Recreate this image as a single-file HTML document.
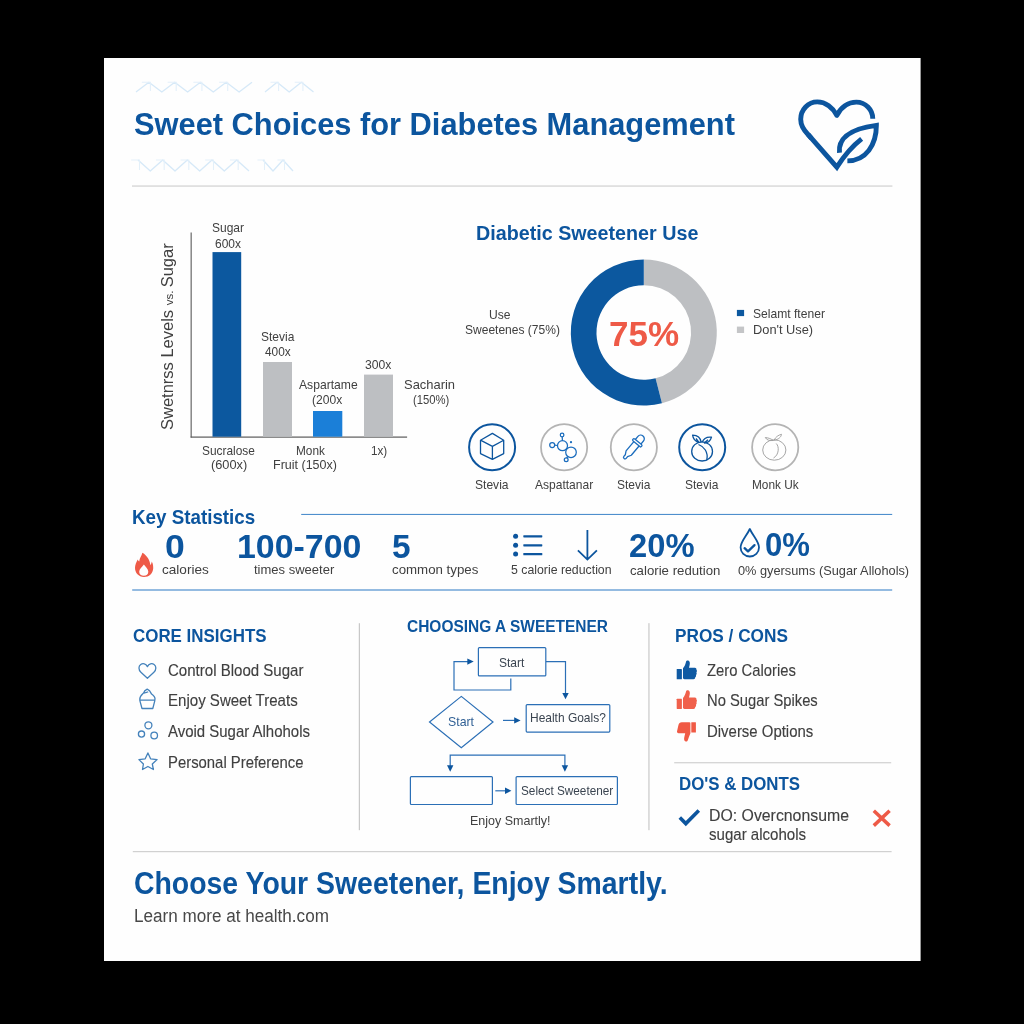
<!DOCTYPE html>
<html lang="en"><head><meta charset="utf-8"><title>Sweet Choices for Diabetes Management</title>
<style>
html,body{margin:0;padding:0;background:#000;}
body{width:1024px;height:1024px;position:relative;overflow:hidden;font-family:"Liberation Sans",sans-serif;}
svg{position:absolute;left:0;top:0;}
.t{position:absolute;white-space:nowrap;line-height:1;transform-origin:0 0;display:block;}
</style></head><body>
<svg width="1024" height="1024" viewBox="0 0 1024 1024">
<rect x="104" y="58" width="816.6" height="903" fill="#fefefe"/>
<path d="M136.0,92.0 L148.9,82.3 L161.8,92.0 L174.7,82.3 L187.6,92.0 L200.4,82.3 L213.3,92.0 L226.2,82.3 L239.1,92.0 L252.0,82.3" fill="none" stroke="#d6e9f8" stroke-width="1.3" stroke-linejoin="round"/><path d="M141.8,82.3 L150.4,82.3 L150.4,91.0 M167.6,82.3 L176.2,82.3 L176.2,91.0 M193.4,82.3 L201.9,82.3 L201.9,91.0 M219.1,82.3 L227.7,82.3 L227.7,91.0 " fill="none" stroke="#e3f0fa" stroke-width="1.1"/>
<path d="M265.0,92.0 L277.1,82.3 L289.2,92.0 L301.4,82.3 L313.5,92.0" fill="none" stroke="#d6e9f8" stroke-width="1.3" stroke-linejoin="round"/><path d="M270.5,82.3 L278.6,82.3 L278.6,91.0 M294.7,82.3 L302.9,82.3 L302.9,91.0 " fill="none" stroke="#e3f0fa" stroke-width="1.1"/>
<path d="M138.0,160.0 L150.3,171.0 L162.7,160.0 L175.0,171.0 L187.3,160.0 L199.7,171.0 L212.0,160.0 L224.3,171.0 L236.7,160.0 L249.0,171.0" fill="none" stroke="#d6e9f8" stroke-width="1.3" stroke-linejoin="round"/><path d="M131.2,160.0 L139.5,160.0 L139.5,170.0 M155.9,160.0 L164.2,160.0 L164.2,170.0 M180.6,160.0 L188.8,160.0 L188.8,170.0 M205.2,160.0 L213.5,160.0 L213.5,170.0 M229.9,160.0 L238.2,160.0 L238.2,170.0 " fill="none" stroke="#e3f0fa" stroke-width="1.1"/>
<path d="M263.0,160.0 L273.0,171.0 L283.0,160.0 L293.0,171.0" fill="none" stroke="#d6e9f8" stroke-width="1.3" stroke-linejoin="round"/><path d="M257.5,160.0 L264.5,160.0 L264.5,170.0 M277.5,160.0 L284.5,160.0 L284.5,170.0 " fill="none" stroke="#e3f0fa" stroke-width="1.1"/>
<rect x="132" y="185.5" width="760.4" height="1.1" fill="#cccccc"/>
<g fill="none" stroke="#0c559e" stroke-width="4.9" stroke-miterlimit="10" stroke-linecap="butt"><path d="M872.77,118.71 C872.77,109.53 865.44,102.11 856.36,102.11 C848.06,102.11 840.73,107.58 836.83,115.39 C832.92,107.58 825.60,101.91 817.30,101.91 C808.21,101.91 800.70,109.53 800.70,119.30 C800.70,125.16 803.62,130.04 808.02,134.43 L811.44,138.31" stroke-linejoin="round"/><path d="M808.02,134.43 L836.83,167.15 C843.66,156.41 851.48,146.64 861.63,138.83" stroke-linejoin="miter"/><path d="M839.46,152.70 C838.29,140.78 846.59,129.06 876.38,125.35 C876.38,144.69 866.12,160.90 847.38,160.90" stroke-linejoin="miter"/></g>
<rect x="190.6" y="232.5" width="1.1" height="205" fill="#5a5a5a"/>
<rect x="190.6" y="436.5" width="216.5" height="1.2" fill="#5a5a5a"/>
<rect x="212.5" y="252.1" width="28.7" height="184.6" fill="#0c589f"/>
<rect x="263" y="362" width="29" height="74.7" fill="#bdbfc2"/>
<rect x="313" y="411" width="29.3" height="25.7" fill="#1b7fd8"/>
<rect x="364" y="374.6" width="29" height="62.1" fill="#bdbfc2"/>
<path d="M643.80,259.50 A73.0,73.0 0 0 1 661.95,403.21 L655.56,378.31 A47.3,47.3 0 0 0 643.80,285.20 Z" fill="#bdbfc2"/>
<path d="M661.95,403.21 A73.0,73.0 0 1 1 643.80,259.50 L643.80,285.20 A47.3,47.3 0 1 0 655.56,378.31 Z" fill="#0c589f"/>
<rect x="736.9" y="309.9" width="7.2" height="6.2" fill="#0c589f"/>
<rect x="736.9" y="326.6" width="7.2" height="6.4" fill="#c4c5c7"/>
<circle cx="492.1" cy="447.2" r="23.0" fill="none" stroke="#0c559e" stroke-width="2.0"/>
<circle cx="564.1" cy="447.2" r="23.1" fill="none" stroke="#b4b4b4" stroke-width="1.8"/>
<circle cx="633.85" cy="447.2" r="23.1" fill="none" stroke="#b4b4b4" stroke-width="1.8"/>
<circle cx="702.2" cy="447.2" r="23.0" fill="none" stroke="#0c559e" stroke-width="2.0"/>
<circle cx="775.2" cy="447.2" r="23.1" fill="none" stroke="#b4b4b4" stroke-width="1.8"/>
<path d="M492.4,433.4 L503.7,440.2 L503.7,453.6 L492.4,459.4 L480.5,453.6 L480.5,440.2 Z M480.5,440.2 L492.4,446.4 L503.7,440.2 M492.4,446.4 L492.4,459.4" fill="none" stroke="#0c559e" stroke-width="1.3" stroke-linejoin="round"/>
<g fill="none" stroke="#1a6cbd" stroke-width="1.25">
<circle cx="562.1" cy="435" r="1.8"/><circle cx="552.2" cy="445" r="2.5"/><circle cx="562.5" cy="445.7" r="5"/>
<circle cx="571" cy="452.3" r="5.3"/><circle cx="566.2" cy="459.7" r="1.9"/><circle cx="571" cy="442.2" r="0.5"/>
<path d="M562.2,436.8 L562.4,440.7 M554.7,445.2 L557.5,445.5 M566.6,458 L567.8,456.5"/></g>
<g fill="none" stroke="#1a6cbd" stroke-width="1.3" stroke-linejoin="round" transform="translate(633.5 447.3) rotate(40)">
<path d="M-3.6,-7.2 L-3.6,-11.2 a3.6,3.6 0 0 1 7.2,0 L3.6,-7.2"/>
<rect x="-5.6" y="-7.2" width="11.2" height="2.6" rx="1.2"/>
<path d="M-3.4,-4.6 L-3.4,7.5 L-1.5,11 L-1.5,13.2 a1.5,1.5 0 0 0 3,0 L1.5,11 L3.4,7.5 L3.4,-4.6"/>
</g>
<g fill="none" stroke="#0c559e" stroke-width="1.3" stroke-linejoin="round">
<ellipse cx="702.1" cy="451.4" rx="10.4" ry="9.6"/>
<path d="M699,442.5 C695,441.5 693,438 692.6,435.2 C697,435.3 700.5,437.5 701.2,442.3 M699,442.5 L696,438.5"/>
<path d="M702.2,442.3 C703.5,438.5 707.5,436.8 711.5,437.2 C710.5,441 707.5,443 704,443.2 M704,443.2 L708,439.8"/>
<path d="M698.5,444.5 C704,446.5 708.5,452 706.8,460"/>
</g>
<g fill="none" stroke="#9c9c9c" stroke-width="0.9" stroke-linejoin="round">
<ellipse cx="774.3" cy="450" rx="11.6" ry="10.2"/>
<path d="M773.5,440.5 C770.5,438.5 768,437.8 765.3,437.5 C766.5,439.8 769,441 773.5,440.5 M774,440.3 C775.5,437 778.5,435 781.5,434.3 C781.2,437 778.5,439.5 774,440.3"/>
<path d="M776.2,443.5 C779.5,446.5 779,455 773.5,458"/>
</g>
<rect x="301.2" y="513.9" width="591" height="1.1" fill="#4f8fcd"/>
<rect x="132.2" y="589.4" width="760" height="1.2" fill="#4f8fcd"/>
<path d="M142.4,552.8 C147,555.5 150.2,560.5 150.3,565.3 C151.2,564.2 151.6,562.8 151.7,561.6 C153.2,564 153.3,566.8 153.2,568.4 C152.8,573.6 149,576.9 144,576.9 C138.6,576.9 135,573 135,567.8 C135,564.6 136.4,562.2 137.7,559.4 C138.1,560.3 138.6,561 139.2,561.4 C139.6,558.2 141.6,556 142.4,552.8 Z M143.9,564.6 C142.2,567 139.2,569.2 139.2,571.8 C139.2,574.2 141.2,575.8 143.8,575.8 C146.4,575.8 148.3,574.2 148.3,571.8 C148.3,569.2 145.6,567 143.9,564.6 Z" fill="#ee5a47" fill-rule="evenodd"/>
<circle cx="515.6" cy="536.3" r="2.5" fill="#0c559e"/>
<rect x="523.3" y="535.15" width="19" height="2.3" rx="0.6" fill="#0c559e"/>
<circle cx="515.6" cy="545.3" r="2.5" fill="#0c559e"/>
<rect x="523.3" y="544.15" width="19" height="2.3" rx="0.6" fill="#0c559e"/>
<circle cx="515.6" cy="554.1" r="2.5" fill="#0c559e"/>
<rect x="523.3" y="552.95" width="19" height="2.3" rx="0.6" fill="#0c559e"/>
<path d="M587.4,530 L587.4,559 M577.9,550.3 L587.4,559.6 L596.9,550.3" fill="none" stroke="#0c559e" stroke-width="1.8" stroke-linejoin="miter"/>
<path d="M749.8,529 C746,537 740.6,541.5 740.6,547.6 C740.6,552.6 744.6,556.5 749.8,556.5 C755,556.5 759,552.6 759,547.6 C759,541.5 753.6,537 749.8,529 Z" fill="none" stroke="#0c559e" stroke-width="1.8" stroke-linejoin="round"/>
<path d="M744.6,548.2 L748,551.4 L754.5,545.1" fill="none" stroke="#0c559e" stroke-width="2.3" stroke-linecap="round" stroke-linejoin="round"/>
<rect x="358.8" y="623.2" width="1.1" height="207" fill="#c3c3c3"/>
<rect x="648.4" y="623.2" width="1.1" height="207" fill="#c3c3c3"/>
<g fill="none" stroke="#4482bb" stroke-width="1.3" stroke-linejoin="round">
<path d="M147.4,678.3 L140.9,672.3 C138.3,669.9 138.4,666.1 140.7,664.5 C142.9,663 145.8,663.7 147.4,666.6 C149,663.7 151.9,663 154.1,664.5 C156.4,666.1 156.5,669.9 153.9,672.3 Z"/>
<path d="M139.8,700.4 L142,708.5 L152.8,708.5 L154.9,700.4 M139.2,700.1 L155.4,700.1 M139.8,699.6 C139.5,696.2 142,694.6 143.6,693 C144.2,691 146,689.8 147.2,689.2 C149,689.9 150.6,692 151.6,694.1 C153.6,695.6 155.4,697 155,699.6 M144.2,693.2 C145.6,692.2 147.2,692.4 148.2,691.8"/>
<circle cx="148.4" cy="725.3" r="3.5"/><circle cx="141.5" cy="734.1" r="3.1"/><circle cx="154.2" cy="735.5" r="3.3"/>
<path d="M147.9,752.9 L150.6,758.8 L157.1,759.6 L152.3,764 L153.4,769.5 L147.9,766.5 L142.5,769.5 L143.4,764 L138.9,759.6 L145.2,758.8 Z"/>
</g>
<g fill="none" stroke="#2b6fb6" stroke-width="1.2">
<rect x="478.4" y="647.6" width="67.4" height="28.3" rx="1"/>
<path d="M510.8,678.6 L510.8,690 L454,690 L454,661.6 L468,661.6"/>
<path d="M546,661.6 L565.5,661.6 L565.5,693.5"/>
<path d="M461.3,696.4 L493,722 L461.3,747.8 L429.5,722 Z"/>
<path d="M503,720.4 L515,720.4"/>
<rect x="526.2" y="704.6" width="83.6" height="27.5" rx="1"/>
<path d="M450.2,766 L450.2,755.1 L564.9,755.1 L564.9,766"/>
<rect x="410.4" y="776.6" width="82" height="27.9" rx="1"/>
<rect x="516.1" y="776.6" width="101.3" height="27.9" rx="1"/>
<path d="M495.3,790.8 L506,790.8"/>
</g>
<path d="M473.7,661.6 L467.3,658.4 L467.3,664.8000000000001 Z" fill="#0c559e"/>
<path d="M565.5,699.3 L562.3,692.9 L568.7,692.9 Z" fill="#0c559e"/>
<path d="M520.6,720.4 L514.2,717.1999999999999 L514.2,723.6 Z" fill="#0c559e"/>
<path d="M450.2,771.7 L447.0,765.3000000000001 L453.4,765.3000000000001 Z" fill="#0c559e"/>
<path d="M564.9,771.7 L561.6999999999999,765.3000000000001 L568.1,765.3000000000001 Z" fill="#0c559e"/>
<path d="M511.4,790.8 L505.0,787.5999999999999 L505.0,794.0 Z" fill="#0c559e"/>
<g transform="translate(676.3 660.3)" fill="#0f5aa3">
<rect x="0.4" y="8.8" width="5.2" height="10.2" rx="0.4"/>
<path d="M6.7,8 C8.3,6.2 9.3,3.6 9.8,1.2 C10.1,0.2 11.2,0 12,0.3 C13.6,0.9 13.8,3 13.3,5 L12.7,7.4 L18.6,7.4 C19.8,7.4 20.4,8.4 20.1,9.5 C20.8,10.1 20.8,11.5 20.1,12.1 C20.6,12.9 20.4,14.2 19.7,14.7 C20,15.6 19.6,16.6 18.9,17 C19,18.2 18.2,19 17.2,19 L8.2,19 C7.4,19 6.7,18.5 6.7,17.8 Z"/></g>
<g transform="translate(676.3 690)" fill="#f0604b">
<rect x="0.4" y="8.8" width="5.2" height="10.2" rx="0.4"/>
<path d="M6.7,8 C8.3,6.2 9.3,3.6 9.8,1.2 C10.1,0.2 11.2,0 12,0.3 C13.6,0.9 13.8,3 13.3,5 L12.7,7.4 L18.6,7.4 C19.8,7.4 20.4,8.4 20.1,9.5 C20.8,10.1 20.8,11.5 20.1,12.1 C20.6,12.9 20.4,14.2 19.7,14.7 C20,15.6 19.6,16.6 18.9,17 C19,18.2 18.2,19 17.2,19 L8.2,19 C7.4,19 6.7,18.5 6.7,17.8 Z"/></g>
<g transform="translate(676.8 722.2)" fill="#f05a45">
<rect x="14.5" y="0" width="4.6" height="10.4" rx="0.3"/>
<path d="M13.6,0.8 L13.6,11 C12.6,13.2 11.8,15.5 11,18 C10.6,19.3 9.4,19.6 8.4,19 C7,18.2 7.2,16.2 7.6,14.5 L8.4,11 L1.8,11 C0.6,11 -0.1,10 0.3,8.8 L1.6,3 C2,1 3.2,0 5,0 L12.6,0 C13.2,0 13.6,0.3 13.6,0.8 Z"/></g>
<rect x="674.2" y="762.2" width="217" height="1.1" fill="#cccccc"/>
<path d="M679.8,817.6 L685.8,823.6 L698.8,810.6" fill="none" stroke="#0c559e" stroke-width="3.6" stroke-linejoin="miter"/>
<path d="M873.8,810.8 L889.6,825.6 M889.6,810.8 L873.8,825.6" fill="none" stroke="#ee5a47" stroke-width="3.5"/>
<rect x="132.8" y="851.1" width="758.8" height="1.1" fill="#cccccc"/>
</svg>
<span class="t" style="left:134.00px;top:108.000px;font-size:32.00px;color:#0c559e;transform:scaleX(0.9627);font-weight:700;">Sweet Choices for Diabetes Management</span>
<span class="t" style="left:212.00px;top:222.000px;font-size:12.60px;color:#404040;transform:scaleX(0.9521);">Sugar</span>
<span class="t" style="left:215.00px;top:238.000px;font-size:12.60px;color:#404040;transform:scaleX(0.9490);">600x</span>
<span class="t" style="left:261.00px;top:331.000px;font-size:12.60px;color:#404040;transform:scaleX(0.9526);">Stevia</span>
<span class="t" style="left:265.00px;top:346.000px;font-size:12.60px;color:#404040;transform:scaleX(0.9409);">400x</span>
<span class="t" style="left:312.00px;top:394.000px;font-size:12.60px;color:#404040;transform:scaleX(0.9576);">(200x</span>
<span class="t" style="left:365.00px;top:359.000px;font-size:12.60px;color:#404040;transform:scaleX(0.9659);">300x</span>
<span class="t" style="left:202.00px;top:445.000px;font-size:12.60px;color:#404040;transform:scaleX(0.9445);">Sucralose</span>
<span class="t" style="left:371.00px;top:445.000px;font-size:12.60px;color:#404040;transform:scaleX(0.9273);">1x)</span>
<span class="t" style="left:299.00px;top:379.000px;font-size:12.60px;color:#404040;transform:scaleX(0.9643);">Aspartame</span>
<span class="t" style="left:404.00px;top:379.000px;font-size:12.60px;color:#404040;transform:scaleX(1.0268);">Sacharin</span>
<span class="t" style="left:413.00px;top:394.000px;font-size:12.60px;color:#404040;transform:scaleX(0.8941);">(150%)</span>
<span class="t" style="left:211.00px;top:459.000px;font-size:12.60px;color:#404040;transform:scaleX(1.0143);">(600x)</span>
<span class="t" style="left:296.00px;top:445.000px;font-size:12.60px;color:#404040;transform:scaleX(0.9381);">Monk</span>
<span class="t" style="left:273.00px;top:459.000px;font-size:12.60px;color:#404040;transform:scaleX(0.9932);">Fruit (150x)</span>
<span class="t" style="left:159.50px;top:429.74px;font-size:16.60px;color:#404040;transform:rotate(-90deg) scaleX(0.9941);">Swetnrss Levels <span style="font-size:11.62px">vs. </span>Sugar</span>
<span class="t" style="left:476.00px;top:223.000px;font-size:20.00px;color:#0c559e;transform:scaleX(0.9853);font-weight:700;">Diabetic Sweetener Use</span>
<span class="t" style="left:489.00px;top:309.000px;font-size:12.60px;color:#404040;transform:scaleX(0.9590);">Use</span>
<span class="t" style="left:465.00px;top:324.000px;font-size:12.60px;color:#404040;transform:scaleX(0.9548);">Sweetenes (75%)</span>
<span class="t" style="left:609.00px;top:316.000px;font-size:35.20px;color:#ee5a47;transform:scaleX(0.9954);font-weight:700;">75%</span>
<span class="t" style="left:753.00px;top:308.000px;font-size:12.20px;color:#404040;transform:scaleX(0.9925);">Selamt ftener</span>
<span class="t" style="left:753.00px;top:324.000px;font-size:12.20px;color:#404040;transform:scaleX(1.0516);">Don&#x27;t Use)</span>
<span class="t" style="left:475.00px;top:479.000px;font-size:12.60px;color:#404040;transform:scaleX(0.9583);">Stevia</span>
<span class="t" style="left:535.00px;top:479.000px;font-size:12.60px;color:#404040;transform:scaleX(0.9558);">Aspattanar</span>
<span class="t" style="left:617.00px;top:479.000px;font-size:12.60px;color:#404040;transform:scaleX(0.9526);">Stevia</span>
<span class="t" style="left:685.00px;top:479.000px;font-size:12.60px;color:#404040;transform:scaleX(0.9526);">Stevia</span>
<span class="t" style="left:752.00px;top:479.000px;font-size:12.60px;color:#404040;transform:scaleX(0.9401);">Monk Uk</span>
<span class="t" style="left:132.00px;top:508.000px;font-size:19.30px;color:#0c559e;transform:scaleX(0.9743);font-weight:700;">Key Statistics</span>
<span class="t" style="left:165.00px;top:531.000px;font-size:32.50px;color:#0c559e;transform:scaleX(1.0934);font-weight:700;">0</span>
<span class="t" style="left:237.00px;top:531.000px;font-size:32.50px;color:#0c559e;transform:scaleX(1.0426);font-weight:700;">100-700</span>
<span class="t" style="left:392.00px;top:531.000px;font-size:32.50px;color:#0c559e;transform:scaleX(1.0276);font-weight:700;">5</span>
<span class="t" style="left:629.00px;top:530.000px;font-size:32.50px;color:#0c559e;transform:scaleX(1.0064);font-weight:700;">20%</span>
<span class="t" style="left:765.00px;top:529.000px;font-size:32.50px;color:#0c559e;transform:scaleX(0.9556);font-weight:700;">0%</span>
<span class="t" style="left:162.00px;top:563.000px;font-size:13.40px;color:#404040;transform:scaleX(1.0133);">calories</span>
<span class="t" style="left:254.00px;top:563.000px;font-size:13.40px;color:#404040;transform:scaleX(0.9720);">times sweeter</span>
<span class="t" style="left:392.00px;top:563.000px;font-size:13.40px;color:#404040;transform:scaleX(0.9919);">common types</span>
<span class="t" style="left:511.00px;top:563.000px;font-size:13.40px;color:#404040;transform:scaleX(0.9189);">5 calorie reduction</span>
<span class="t" style="left:630.00px;top:564.000px;font-size:13.40px;color:#404040;transform:scaleX(0.9877);">calorie redution</span>
<span class="t" style="left:738.00px;top:564.000px;font-size:13.40px;color:#404040;transform:scaleX(0.9540);">0% gyersums (Sugar Allohols)</span>
<span class="t" style="left:133.00px;top:627.000px;font-size:18.60px;color:#0c559e;transform:scaleX(0.9103);font-weight:700;">CORE INSIGHTS</span>
<span class="t" style="left:407.00px;top:619.000px;font-size:16.80px;color:#0c559e;transform:scaleX(0.9227);font-weight:700;">CHOOSING A SWEETENER</span>
<span class="t" style="left:675.00px;top:627.000px;font-size:18.40px;color:#0c559e;transform:scaleX(0.9361);font-weight:700;">PROS / CONS</span>
<span class="t" style="left:168.00px;top:662.000px;font-size:16.10px;color:#404040;transform:scaleX(0.9348);-webkit-text-stroke:0.12px #383838;">Control Blood Sugar</span>
<span class="t" style="left:168.00px;top:692.000px;font-size:16.10px;color:#404040;transform:scaleX(0.9353);-webkit-text-stroke:0.12px #383838;">Enjoy Sweet Treats</span>
<span class="t" style="left:168.00px;top:723.000px;font-size:16.10px;color:#404040;transform:scaleX(0.9295);-webkit-text-stroke:0.12px #383838;">Avoid Sugar Alhohols</span>
<span class="t" style="left:168.00px;top:754.000px;font-size:16.10px;color:#404040;transform:scaleX(0.9238);-webkit-text-stroke:0.12px #383838;">Personal Preference</span>
<span class="t" style="left:707.00px;top:662.000px;font-size:16.10px;color:#404040;transform:scaleX(0.9194);-webkit-text-stroke:0.12px #383838;">Zero Calories</span>
<span class="t" style="left:707.00px;top:692.000px;font-size:16.10px;color:#404040;transform:scaleX(0.9171);-webkit-text-stroke:0.12px #383838;">No Sugar Spikes</span>
<span class="t" style="left:707.00px;top:723.000px;font-size:16.10px;color:#404040;transform:scaleX(0.9282);-webkit-text-stroke:0.12px #383838;">Diverse Options</span>
<span class="t" style="left:679.00px;top:775.000px;font-size:18.40px;color:#0c559e;transform:scaleX(0.9158);font-weight:700;">DO&#x27;S &amp; DONTS</span>
<span class="t" style="left:709.00px;top:807.000px;font-size:16.10px;color:#404040;transform:scaleX(0.9843);-webkit-text-stroke:0.12px #383838;">DO: Overcnonsume</span>
<span class="t" style="left:709.00px;top:826.000px;font-size:16.10px;color:#404040;transform:scaleX(0.9353);-webkit-text-stroke:0.12px #383838;">sugar alcohols</span>
<span class="t" style="left:499.00px;top:657.000px;font-size:12.80px;color:#3a4450;transform:scaleX(0.9399);">Start</span>
<span class="t" style="left:448.00px;top:716.000px;font-size:12.80px;color:#2f5f94;transform:scaleX(0.9622);">Start</span>
<span class="t" style="left:530.00px;top:712.000px;font-size:12.80px;color:#3a4450;transform:scaleX(0.9350);">Health Goals?</span>
<span class="t" style="left:521.00px;top:785.000px;font-size:12.80px;color:#3a4450;transform:scaleX(0.9191);">Select Sweetener</span>
<span class="t" style="left:470.00px;top:814.000px;font-size:13.40px;color:#404040;transform:scaleX(0.9336);">Enjoy Smartly!</span>
<span class="t" style="left:134.00px;top:868.000px;font-size:31.40px;color:#0c559e;transform:scaleX(0.9050);font-weight:700;">Choose Your Sweetener, Enjoy Smartly.</span>
<span class="t" style="left:134.00px;top:907.000px;font-size:18.00px;color:#484848;transform:scaleX(0.9503);">Learn more at health.com</span>
</body></html>
